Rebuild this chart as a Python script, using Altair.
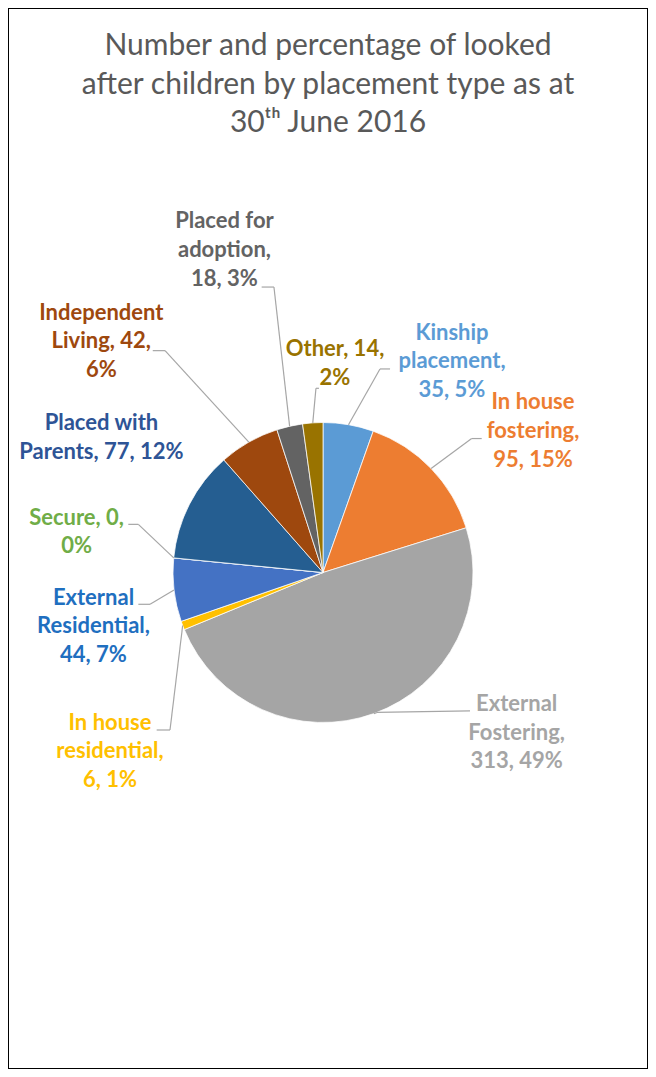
import textwrap
import numpy as np
import pandas as pd
import altair as alt

# ---------------- data ----------------
categories = [
    "Kinship placement", "In house fostering", "External Fostering",
    "In house residential", "External Residential", "Secure",
    "Placed with Parents", "Independent Living", "Placed for adoption", "Other",
]
counts = [35, 95, 313, 6, 44, 0, 77, 42, 18, 14]
percents = [5, 15, 49, 1, 7, 0, 12, 6, 3, 2]

title_lines = [
    "Number and percentage of looked",
    "after children by placement type as at",
    "30\u1d57\u02b0 June 2016",
]

# ---------------- styles ----------------
slice_colors = ["#5B9BD5", "#ED7D31", "#A5A5A5", "#FFC000", "#4472C4",
                "#70AD47", "#255E91", "#9E480E", "#636363", "#997300"]
label_colors = ["#5B9BD5", "#ED7D31", "#A5A5A5", "#FFC000", "#1F6FC0",
                "#70AD47", "#2E5496", "#9E480E", "#636363", "#997300"]
wrap_width = [11, 11, 11, 11, 11, 11, 16, 11, 11, 11]
LABEL_SIZE = 22
LINE_H = 28.6

# ---------------- layout (pie radius = 1 unit, centre = 0,0, y up) ----------------
label_xy = [(0.860, 1.407), (1.400, 0.943), (1.291, -1.067), (-1.420, -1.193),
            (-1.530, -0.360), (-1.643, 0.270), (-1.477, 0.900), (-1.478, 1.540),
            (-0.657, 2.150), (0.080, 1.395)]
# leader: (elbow, end) or None
leaders = [((0.380, 1.357), (0.447, 1.357)),
           ((0.991, 0.893), (1.058, 0.893)),
           ((0.360, -0.933), (0.980, -0.923)),
           ((-1.020, -1.050), (-1.109, -1.050)),
           ((-1.153, -0.212), (-1.231, -0.212)),
           ((-1.231, 0.321), (-1.298, 0.321)),
           None,
           ((-1.053, 1.479), (-1.135, 1.479)),
           ((-0.327, 1.903), (-0.409, 1.903)),
           ((-0.047, 1.228), (-0.027, 1.228))]

W, H = 640, 1061          # whole canvas = view
CX, CY, R = 315, 564.5, 150

xs = alt.Scale(domain=[-CX / R, (W - CX) / R], nice=False, zero=False)
ys = alt.Scale(domain=[-(H - CY) / R, CY / R], nice=False, zero=False)

# ---------------- tables ----------------
total = sum(counts)
cum = np.cumsum(counts)
mid = (cum - np.array(counts) / 2) / total * 2 * np.pi

pie_df = pd.DataFrame({"category": categories, "count": counts,
                       "idx": list(range(len(categories)))})

lab_rows = []
seg_rows = []
for i, name in enumerate(categories):
    txt = f"{name}, {counts[i]}, {percents[i]}%"
    lines = textwrap.wrap(txt, width=wrap_width[i], break_long_words=False)
    n = len(lines)
    # multi-line text is laid out downward from the first line
    y_first = label_xy[i][1] + (n - 1) / 2 * LINE_H / R
    lab_rows.append({"label": "\n".join(lines), "x": label_xy[i][0],
                     "y": y_first, "tcolor": label_colors[i]})
    if leaders[i] is not None:
        ex, ey = float(np.sin(mid[i])), float(np.cos(mid[i]))
        (bx, by), (tx, ty) = leaders[i]
        seg_rows.append({"x": ex, "y": ey, "x2": bx, "y2": by})
        seg_rows.append({"x": bx, "y": by, "x2": tx, "y2": ty})

lab_df = pd.DataFrame(lab_rows)
seg_df = pd.DataFrame(seg_rows)

# ---------------- chart ----------------
pie = alt.Chart(pie_df).mark_arc(outerRadius=R, stroke="white", strokeWidth=0.75).encode(
    theta=alt.Theta("count:Q", stack=True),
    order=alt.Order("idx:Q"),
    color=alt.Color("category:N", scale=alt.Scale(domain=categories, range=slice_colors),
                    legend=None),
    x=alt.XDatum(0, type="quantitative", scale=xs, axis=None),
    y=alt.YDatum(0, type="quantitative", scale=ys, axis=None),
)

leader_lines = alt.Chart(seg_df).mark_rule(color="#A6A6A6", strokeWidth=1.2).encode(
    x=alt.X("x:Q", scale=xs, axis=None),
    y=alt.Y("y:Q", scale=ys, axis=None),
    x2="x2:Q",
    y2="y2:Q",
)

labels = alt.Chart(lab_df).mark_text(
    font="Lato", fontSize=LABEL_SIZE, fontWeight="bold", lineBreak="\n", lineHeight=LINE_H,
    align="center", baseline="middle",
).encode(
    x=alt.X("x:Q", scale=xs, axis=None),
    y=alt.Y("y:Q", scale=ys, axis=None),
    text="label:N",
    color=alt.Color("tcolor:N", scale=None),
)

chart = alt.layer(pie, leader_lines, labels).properties(
    width=W,
    height=H,
    padding=0,
    autosize=alt.AutoSizeParams(type="none"),
    title=alt.TitleParams(
        text=title_lines, font="Lato", fontSize=30, fontWeight="normal",
        color="#595959", lineHeight=38.5, anchor="middle", frame="group",
        baseline="top", offset=-130,
    ),
).configure_view(stroke="#000000", strokeWidth=2)

chart.save("out.html", embed_options={"renderer": "svg", "actions": False})
